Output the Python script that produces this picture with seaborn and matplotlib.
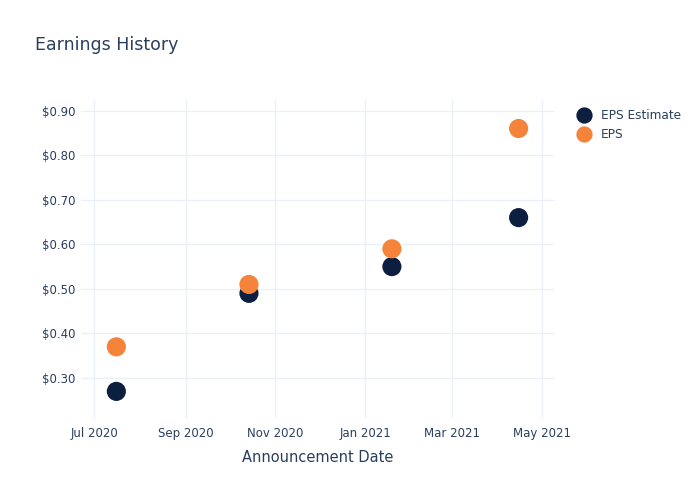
import matplotlib
matplotlib.use("Agg")
import matplotlib.pyplot as plt
import matplotlib.dates as mdates
import matplotlib.ticker as mticker
import seaborn as sns
import pandas as pd

# earnings data
dates = ["2020-07-16", "2020-10-14", "2021-01-19", "2021-04-15"]
eps_estimate = [0.27, 0.49, 0.55, 0.66]
eps_actual = [0.37, 0.51, 0.59, 0.86]

NAVY = "#0c1f40"
ORANGE = "#f5833a"
TEXT = "#2a3f5f"
GRID = "#ebf0f8"

df = pd.DataFrame({
    "date": pd.to_datetime(dates),
    "EPS Estimate": eps_estimate,
    "EPS": eps_actual,
})
long_df = df.melt(id_vars="date", var_name="series", value_name="value")

sns.set_style("white")
plt.rcParams["font.family"] = ["DejaVu Sans"]

fig = plt.figure(figsize=(7, 5), dpi=100)
ax = fig.add_axes([0.1157, 0.162, 0.6757, 0.638])

sns.scatterplot(
    data=long_df, x="date", y="value", hue="series",
    hue_order=["EPS Estimate", "EPS"],
    palette={"EPS Estimate": NAVY, "EPS": ORANGE},
    s=190, linewidth=0, alpha=1, ax=ax, zorder=3,
)

ax.set_xlim(pd.Timestamp("2020-06-22"), pd.Timestamp("2021-05-09"))
ax.set_ylim(0.208, 0.924)

ax.xaxis.set_major_locator(mdates.MonthLocator(bymonth=[1, 3, 5, 7, 9, 11]))
ax.xaxis.set_major_formatter(mdates.DateFormatter("%b %Y"))
ax.yaxis.set_major_locator(mticker.MultipleLocator(0.1))
ax.yaxis.set_major_formatter(mticker.FuncFormatter(lambda v, p: f"${v:.2f}"))

ax.grid(True, color=GRID, linewidth=1)
ax.set_axisbelow(True)
for sp in ax.spines.values():
    sp.set_visible(False)
ax.tick_params(axis="both", length=0, labelsize=8.5, colors=TEXT)
ax.tick_params(axis="x", pad=6)
ax.tick_params(axis="y", pad=4)

ax.set_xlabel("Announcement Date", fontsize=10.5, color=TEXT, labelpad=7)
ax.set_ylabel("")

fig.text(0.05, 0.91, "Earnings History", fontsize=12.5, color=TEXT, va="center")

handles, labels = ax.get_legend_handles_labels()
leg = ax.legend(
    handles, labels, loc="upper left", bbox_to_anchor=(0.801, 0.804),
    bbox_transform=fig.transFigure, frameon=False, fontsize=8.7,
    handletextpad=0.45, labelspacing=0.5, markerscale=0.85,
)
for t in leg.get_texts():
    t.set_color(TEXT)

fig.savefig("out.png", dpi=100)
